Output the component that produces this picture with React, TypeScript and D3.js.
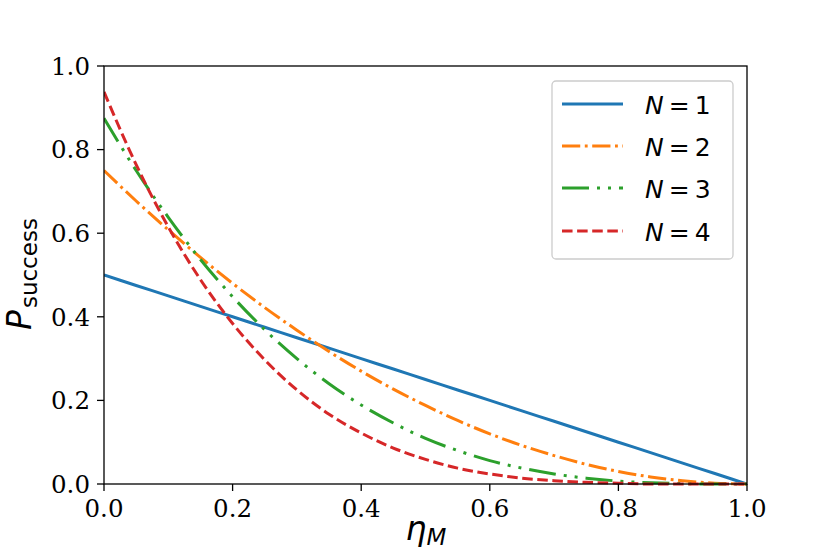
import React from "react";
import * as d3 from "d3";

const etaValues = [0, 0.05, 0.1, 0.15, 0.2, 0.25, 0.3, 0.35, 0.4, 0.45, 0.5, 0.55, 0.6, 0.65, 0.7, 0.75, 0.8, 0.85, 0.9, 0.95, 1.0];
const seriesN1 = [0.5, 0.475, 0.45, 0.425, 0.4, 0.375, 0.35, 0.325, 0.3, 0.275, 0.25, 0.225, 0.2, 0.175, 0.15, 0.125, 0.1, 0.075, 0.05, 0.025, 0.0];
const seriesN2 = [0.75, 0.677, 0.608, 0.542, 0.48, 0.422, 0.368, 0.317, 0.27, 0.227, 0.188, 0.152, 0.12, 0.092, 0.068, 0.047, 0.03, 0.017, 0.008, 0.002, 0.0];
const seriesN3 = [0.875, 0.75, 0.638, 0.537, 0.448, 0.369, 0.3, 0.24, 0.189, 0.146, 0.109, 0.08, 0.056, 0.038, 0.024, 0.014, 0.007, 0.003, 0.001, 0.0, 0.0];
const seriesN4 = [0.938, 0.764, 0.615, 0.489, 0.384, 0.297, 0.225, 0.167, 0.122, 0.086, 0.059, 0.038, 0.024, 0.014, 0.008, 0.004, 0.002, 0.0, 0.0, 0.0, 0.0];
const legendLabels = ["1", "2", "3", "4"];
const xTicks = [0, 0.2, 0.4, 0.6, 0.8, 1.0];
const yTicks = [0, 0.2, 0.4, 0.6, 0.8, 1.0];

const W = 830;
const H = 554;
const M = { left: 104, right: 747, top: 66, bottom: 484 };
const LW = 3;
const U = 2.85;

const seriesList = [
  { values: seriesN1, color: "#1f77b4", dash: "none" },
  { values: seriesN2, color: "#ff7f0e", dash: `${6.4 * U},${1.6 * U},${1 * U},${1.6 * U}` },
  { values: seriesN3, color: "#2ca02c", dash: "27,8,3,8,3,8" },
  { values: seriesN4, color: "#d62728", dash: `${3.7 * U},${1.6 * U}` },
];

export default function App() {
  const x = d3.scaleLinear().domain([0, 1]).range([M.left, M.right]);
  const y = d3.scaleLinear().domain([0, 1]).range([M.bottom, M.top]);
  const line = d3
    .line<number>()
    .x((_, i) => x(etaValues[i]))
    .y((d) => y(d))
    .curve(d3.curveMonotoneX);

  const serif = "'DejaVu Serif', serif";
  const sans = "'DejaVu Sans', sans-serif";
  const legX = 552, legY = 81, legW = 181, legH = 178;
  const rowY = [104, 146, 188, 231];

  return (
    <svg width={W} height={H} style={{ position: "absolute", left: 0, top: 0, background: "#fff" }}>
      <defs>
        <clipPath id="plotclip">
          <rect x={M.left} y={M.top - 2} width={M.right - M.left} height={M.bottom - M.top + 4} />
        </clipPath>
      </defs>
      <g clipPath="url(#plotclip)">
        {seriesList.map((s, i) => (
          <path
            key={i}
            d={line(s.values) || ""}
            fill="none"
            stroke={s.color}
            strokeWidth={LW}
            strokeDasharray={s.dash}
            strokeLinecap="butt"
          />
        ))}
      </g>
      <rect x={M.left} y={M.top} width={M.right - M.left} height={M.bottom - M.top} fill="none" stroke="#000" strokeWidth={1.3} />
      {xTicks.map((t) => (
        <g key={"x" + t}>
          <line x1={x(t)} x2={x(t)} y1={M.bottom} y2={M.bottom + 7} stroke="#000" strokeWidth={1.3} />
          <text x={x(t)} y={M.bottom + 33} textAnchor="middle" fontFamily={serif} fontSize={24.5} fill="#000">
            {t.toFixed(1)}
          </text>
        </g>
      ))}
      {yTicks.map((t) => (
        <g key={"y" + t}>
          <line x1={M.left - 7} x2={M.left} y1={y(t)} y2={y(t)} stroke="#000" strokeWidth={1.3} />
          <text x={M.left - 14} y={y(t) + 8.7} textAnchor="end" fontFamily={serif} fontSize={24.5} fill="#000">
            {t.toFixed(1)}
          </text>
        </g>
      ))}
      <text x={(M.left + M.right) / 2 - 20} y={540} fontFamily={sans} fill="#000">
        <tspan fontSize={33} fontStyle="italic">η</tspan>
        <tspan fontSize={23} fontStyle="italic" dy={5}>M</tspan>
      </text>
      <text transform={`translate(31, ${(M.top + M.bottom) / 2 + 55}) rotate(-90)`} fontFamily={sans} fill="#000">
        <tspan fontSize={33} fontStyle="italic">P</tspan>
        <tspan fontSize={23} dy={6} dx={2}>success</tspan>
      </text>
      <rect x={legX} y={legY} width={legW} height={legH} rx={4} ry={4} fill="#fff" fillOpacity={0.8} stroke="#cccccc" strokeWidth={1.3} />
      {seriesList.map((s, i) => (
        <g key={"leg" + i}>
          <line x1={562} x2={623} y1={rowY[i]} y2={rowY[i]} stroke={s.color} strokeWidth={LW} strokeDasharray={s.dash} />
          <text x={645} y={rowY[i] + 9.5} fontFamily={sans} fontSize={25} fill="#000">
            <tspan fontStyle="italic">N</tspan>
            <tspan dx={5}>=</tspan>
            <tspan dx={5}>{legendLabels[i]}</tspan>
          </text>
        </g>
      ))}
    </svg>
  );
}
